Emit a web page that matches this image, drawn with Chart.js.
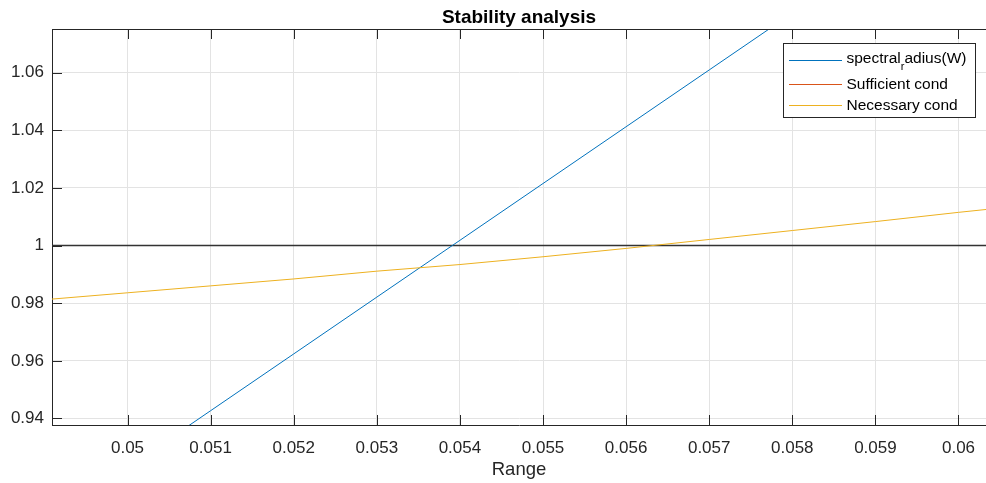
<!DOCTYPE html>
<html>
<head>
<meta charset="utf-8">
<script src="https://cdn.jsdelivr.net/npm/chart.js@4/dist/chart.umd.min.js"></script>
<style>
  html, body { margin: 0; padding: 0; background: #fff; }
</style>
</head>
<body>
<canvas id="chart" width="986" height="483"></canvas>
<script>
// Data
const rangeValues = [0.049, 0.050, 0.051, 0.052, 0.053, 0.054, 0.055, 0.056, 0.057, 0.058, 0.059, 0.060, 0.0604];
const spectralRadius = [0.9033, 0.9230, 0.9427, 0.9624, 0.9821, 1.0018, 1.0215, 1.0412, 1.0609, 1.0806, 1.1003, 1.1200, 1.1279];
const sufficientCond = [];
const necessaryCond = [0.9812, 0.9836, 0.9860, 0.9884, 0.9911, 0.9934, 0.9961, 0.9990, 1.0021, 1.0052, 1.0083, 1.0115, 1.0127];
const threshold = [1, 1, 1, 1, 1, 1, 1, 1, 1, 1, 1, 1, 1];

const seriesNames = ['spectral_radius(W)', 'Sufficient cond', 'Necessary cond'];
const seriesColors = ['#0072BD', '#D95319', '#EDB120'];

const xTickValues = [0.05, 0.051, 0.052, 0.053, 0.054, 0.055, 0.056, 0.057, 0.058, 0.059, 0.06];
const xTickLabels = ['0.05', '0.051', '0.052', '0.053', '0.054', '0.055', '0.056', '0.057', '0.058', '0.059', '0.06'];
const yTickValues = [0.94, 0.96, 0.98, 1, 1.02, 1.04, 1.06];
const yTickLabels = ['0.94', '0.96', '0.98', '1', '1.02', '1.04', '1.06'];

const xMin = 0.049091, xMax = 0.060331;
const yMin = 0.93774, yMax = 1.0751;

const FONT = '"Liberation Sans", Arial, Helvetica, sans-serif';
const AXIS = '#262626';

const toPoints = vals => vals.map((v, i) => ({ x: rangeValues[i], y: v }));

// axes frame, inward ticks, title and legend drawn like the MATLAB figure
const framePlugin = {
  id: 'frame',
  afterDraw(chart) {
    const { ctx, chartArea: a, scales } = chart;
    ctx.save();
    ctx.strokeStyle = AXIS;
    ctx.lineWidth = 1;
    ctx.beginPath();
    ctx.moveTo(a.left, a.top + 0.5);
    ctx.lineTo(a.right, a.top + 0.5);
    xTickValues.forEach(v => {
      const px = Math.round(scales.x.getPixelForValue(v)) + 0.5;
      ctx.moveTo(px, a.bottom); ctx.lineTo(px, a.bottom - 10);
      ctx.moveTo(px, a.top); ctx.lineTo(px, a.top + 10);
    });
    yTickValues.forEach(v => {
      const py = Math.round(scales.y.getPixelForValue(v)) + 0.5;
      ctx.moveTo(a.left, py); ctx.lineTo(a.left + 10, py);
    });
    ctx.stroke();

    // title
    ctx.fillStyle = '#000';
    ctx.font = 'bold 19px ' + FONT;
    ctx.textAlign = 'center';
    ctx.textBaseline = 'alphabetic';
    ctx.fillText('Stability analysis', (a.left + a.right) / 2, 22.5);

    // legend
    const lx = 783.5, ly = 43.5, lw = 192, lh = 74;
    ctx.fillStyle = '#fff';
    ctx.fillRect(lx, ly, lw, lh);
    ctx.strokeStyle = AXIS;
    ctx.lineWidth = 1;
    ctx.strokeRect(lx, ly, lw, lh);
    const rows = [60.5, 84.5, 105.5];
    ctx.textAlign = 'left';
    ctx.textBaseline = 'middle';
    seriesNames.forEach((name, i) => {
      const ry = rows[i];
      ctx.strokeStyle = seriesColors[i];
      ctx.beginPath();
      ctx.moveTo(789, ry); ctx.lineTo(842, ry);
      ctx.stroke();
      ctx.fillStyle = '#000';
      ctx.font = '15.5px ' + FONT;
      const tx = 846.5;
      if (name.includes('_')) {
        const [pre, post] = name.split('_');
        const ty = ry - 1.5;
        ctx.fillText(pre, tx, ty);
        const w1 = ctx.measureText(pre).width;
        ctx.font = '11px ' + FONT;
        ctx.fillText(post[0], tx + w1, ty + 8);
        const w2 = ctx.measureText(post[0]).width;
        ctx.font = '15.5px ' + FONT;
        ctx.fillText(post.slice(1), tx + w1 + w2, ty);
      } else {
        ctx.fillText(name, tx, ry);
      }
    });
    ctx.restore();
  }
};

new Chart(document.getElementById('chart'), {
  type: 'line',
  data: {
    datasets: [
      { label: 'threshold', data: toPoints(threshold), borderColor: '#333333', borderWidth: 1.3, order: 4 },
      { label: seriesNames[0], data: toPoints(spectralRadius), borderColor: seriesColors[0], borderWidth: 1, order: 3 },
      { label: seriesNames[1], data: toPoints(sufficientCond), borderColor: seriesColors[1], borderWidth: 1, order: 2 },
      { label: seriesNames[2], data: toPoints(necessaryCond), borderColor: seriesColors[2], borderWidth: 1, order: 1 }
    ]
  },
  options: {
    responsive: false,
    devicePixelRatio: 1,
    animation: false,
    layout: { padding: { top: 29, left: 0, right: 0, bottom: 0 } },
    elements: { point: { radius: 0 }, line: { tension: 0 } },
    plugins: {
      legend: { display: false },
      title: { display: false },
      tooltip: { enabled: false }
    },
    scales: {
      x: {
        type: 'linear',
        min: xMin,
        max: xMax,
        afterBuildTicks: s => { s.ticks = xTickValues.map(v => ({ value: v })); },
        afterFit: s => { s.height = 58; s.paddingLeft = 0; s.paddingRight = 0; },
        grid: { color: '#e3e3e3', drawTicks: false },
        border: { color: AXIS, width: 1 },
        ticks: {
          autoSkip: false, maxRotation: 0, padding: 13,
          color: AXIS, font: { family: FONT, size: 17 },
          callback: (v, i) => xTickLabels[i]
        },
        title: {
          display: true, text: 'Range', color: AXIS,
          font: { family: FONT, size: 18.5 },
          padding: { top: 0, bottom: 2 }
        }
      },
      y: {
        type: 'linear',
        min: yMin,
        max: yMax,
        afterBuildTicks: s => { s.ticks = yTickValues.map(v => ({ value: v })); },
        afterFit: s => { s.width = 52; s.paddingTop = 0; s.paddingBottom = 0; },
        grid: { color: '#e3e3e3', drawTicks: false },
        border: { color: AXIS, width: 1 },
        ticks: {
          autoSkip: false, padding: 8,
          color: AXIS, font: { family: FONT, size: 17 },
          callback: (v, i) => yTickLabels[i]
        }
      }
    }
  },
  plugins: [framePlugin]
});
</script>
</body>
</html>
